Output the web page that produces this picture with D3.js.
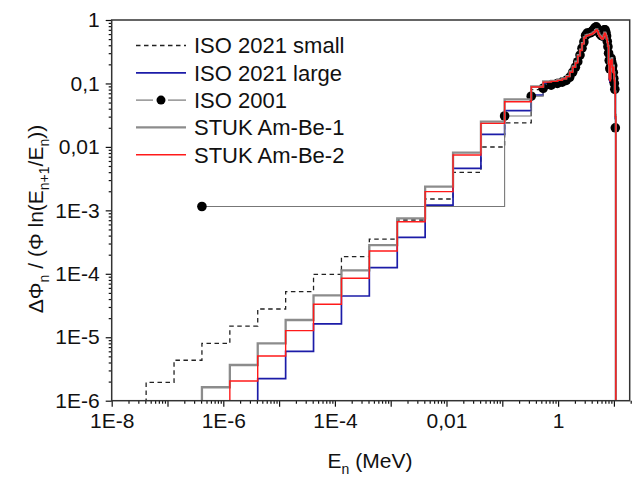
<!DOCTYPE html>
<html lang="en">
<head>
<meta charset="UTF-8">
<title>Am-Be spectra</title>
<script src="https://d3js.org/d3.v7.min.js"></script>
<style>
  body { margin: 0; background: #fff; }
  svg { display: block; font-family: "Liberation Sans", Arial, sans-serif; }
  .tick text { font-size: 21px; fill: #111; }
  .legend text { font-size: 22px; fill: #111; }
</style>
</head>
<body>
<div id="chart"></div>
<script>
// bin edges in MeV: half-decade lethargy bins, then ~0.21 MeV bins above 0.54 MeV
const coarseEdges = [1.31e-8, 4.14e-8, 1.31e-7, 4.14e-7, 1.31e-6, 4.14e-6, 1.31e-5, 4.14e-5,
  1.31e-4, 4.14e-4, 1.31e-3, 4.14e-3, 1.31e-2, 4.14e-2, 0.11, 0.33];
const fineEdges = [0.54, 0.75, 0.97, 1.18, 1.40, 1.61, 1.82, 2.04, 2.25, 2.47, 2.68, 2.90, 3.11, 3.32,
  3.54, 3.75, 3.97, 4.18, 4.39, 4.61, 4.82, 5.04, 5.25, 5.47, 5.68, 5.89, 6.11, 6.32, 6.54, 6.75,
  6.96, 7.18, 7.39, 7.61, 7.82, 8.03, 8.25, 8.46, 8.68, 8.89, 9.11, 9.32, 9.53, 9.75, 9.96, 10.18,
  10.39, 10.60, 10.82, 11.03];

// values per bin (null = no data)
const iso2021Small = [null, 1.95e-6, 4.34e-6, 8.03e-6, 1.50e-5, 2.79e-5, 5.22e-5, 9.8e-5, 1.86e-4,
  3.53e-4, 7.05e-4, 1.51e-3, 3.98e-3, 9.96e-3, 2.40e-2, 0.080,
  0.098, 0.104, 0.11, 0.115, 0.125, 0.147, 0.176, 0.208, 0.262, 0.325, 0.41, 0.51, 0.55, 0.56, 0.57,
  0.58, 0.59, 0.61, 0.63, 0.67, 0.69, 0.65, 0.59, 0.55, 0.53, 0.51, 0.49, 0.51, 0.56, 0.61, 0.59,
  0.54, 0.49, 0.43, 0.37, 0.19, 0.115, 0.105, 0.22, 0.19, 0.23, 0.17, 0.145, 0.17, 0.135, 0.105,
  0.068, 0.028, null];
const iso2021Large = [null, null, null, null, null, 2.22e-6, 6.0e-6, 1.62e-5, 4.47e-5, 1.25e-4,
  3.76e-4, 1.21e-3, 4.6e-3, 1.58e-2, 3.72e-2, 6.58e-2,
  0.1, 0.105, 0.11, 0.116, 0.126, 0.148, 0.178, 0.21, 0.265, 0.33, 0.41, 0.51, 0.55, 0.56, 0.57,
  0.58, 0.59, 0.61, 0.63, 0.67, 0.69, 0.65, 0.59, 0.55, 0.53, 0.51, 0.49, 0.51, 0.56, 0.61, 0.59,
  0.54, 0.49, 0.43, 0.37, 0.19, 0.115, 0.105, 0.22, 0.19, 0.23, 0.17, 0.145, 0.17, 0.135, 0.105,
  0.068, 0.028, null];
const stukAmBe1 = [null, null, null, 1.63e-6, 3.65e-6, 8.0e-6, 1.87e-5, 4.58e-5, 1.13e-4, 2.84e-4,
  7.5e-4, 2.36e-3, 8.1e-3, 2.5e-2, 5.6e-2, 8.95e-2,
  0.108, 0.11, 0.115, 0.12, 0.13, 0.155, 0.185, 0.22, 0.28, 0.34, 0.43, 0.53, 0.57, 0.58, 0.59,
  0.60, 0.61, 0.63, 0.65, 0.69, 0.71, 0.67, 0.61, 0.57, 0.55, 0.53, 0.51, 0.53, 0.58, 0.63, 0.61,
  0.56, 0.51, 0.45, 0.39, 0.21, 0.13, 0.12, 0.24, 0.21, 0.25, 0.19, 0.16, 0.19, 0.15, 0.12,
  0.075, 0.032, null];
const stukAmBe2 = [null, null, null, null, 2.04e-6, 5.06e-6, 1.27e-5, 3.31e-5, 8.5e-5, 2.29e-4,
  6.6e-4, 1.97e-3, 7.45e-3, 2.35e-2, 5.16e-2, 8.8e-2,
  0.105, 0.108, 0.112, 0.118, 0.128, 0.15, 0.18, 0.21, 0.27, 0.33, 0.42, 0.52, 0.56, 0.57, 0.58,
  0.59, 0.60, 0.62, 0.64, 0.68, 0.70, 0.66, 0.60, 0.56, 0.54, 0.52, 0.50, 0.52, 0.57, 0.62, 0.60,
  0.55, 0.50, 0.44, 0.38, 0.20, 0.12, 0.11, 0.23, 0.20, 0.24, 0.18, 0.15, 0.18, 0.14, 0.11,
  0.07, 0.03, null];

// ISO 8529 (2001): lower bin edges and values
const iso2001Energy = [4.14e-7, 0.11, 0.33, 0.54, 0.75, 0.97, 1.18, 1.40, 1.61, 1.82, 2.04, 2.25,
  2.47, 2.68, 2.90, 3.11, 3.32, 3.54, 3.75, 3.97, 4.18, 4.39, 4.61, 4.82, 5.04, 5.25, 5.47, 5.68,
  5.89, 6.11, 6.32, 6.54, 6.75, 6.96, 7.18, 7.39, 7.61, 7.82, 8.03, 8.25, 8.46, 8.68, 8.89, 9.11,
  9.32, 9.53, 9.75, 9.96, 10.18, 10.39, 10.60];
const iso2001Values = [1.15e-3, 0.0307, 0.063, 0.084, 0.094, 0.10, 0.105, 0.112, 0.125, 0.15,
  0.18, 0.22, 0.28, 0.36, 0.45, 0.57, 0.62, 0.62, 0.63, 0.65, 0.68, 0.72, 0.76, 0.78, 0.74, 0.68,
  0.63, 0.60, 0.58, 0.56, 0.58, 0.64, 0.70, 0.70, 0.64, 0.56, 0.46, 0.38, 0.30, 0.23, 0.17, 0.18,
  0.25, 0.22, 0.17, 0.19, 0.15, 0.12, 0.10, 0.081, 0.02];

const xTickLabels = {"-8": "1E-8", "-6": "1E-6", "-4": "1E-4", "-2": "0,01", "0": "1"};
const yTickLabels = {"-6": "1E-6", "-5": "1E-5", "-4": "1E-4", "-3": "1E-3", "-2": "0,01", "-1": "0,1", "0": "1"};

const W = 632, H = 479;
const L = 111.7, R = 630.7, T = 20, B = 400.7;

const svg = d3.select("#chart").append("svg").attr("width", W).attr("height", H);

const x = d3.scaleLog().domain([1e-8, 20]).range([L, R]);
const y = d3.scaleLog().domain([1e-6, 1]).range([B, T]);

svg.append("clipPath").attr("id", "clip")
  .append("rect").attr("x", L).attr("y", T).attr("width", R - L).attr("height", B - T);

// ticks
const xMajor = d3.range(-8, 2).map(p => Math.pow(10, p));
const xMinor = [];
d3.range(-8, 2).forEach(p => d3.range(2, 10).forEach(m => {
  const v = m * Math.pow(10, p);
  if (v <= 20) xMinor.push(v);
}));
const yMajor = d3.range(-6, 1).map(p => Math.pow(10, p));
const yMinor = [];
d3.range(-6, 0).forEach(p => d3.range(2, 10).forEach(m => yMinor.push(m * Math.pow(10, p))));

function expKey(v) { return String(Math.round(Math.log10(v))); }

svg.append("g").attr("transform", `translate(0,${B})`)
  .call(d3.axisBottom(x).tickValues(xMinor).tickSize(3).tickFormat(""))
  .call(g => g.select(".domain").remove());
svg.append("g").attr("transform", `translate(0,${B})`)
  .call(d3.axisBottom(x).tickValues(xMajor).tickSize(6).tickPadding(6)
    .tickFormat(v => xTickLabels[expKey(v)] || ""))
  .call(g => g.select(".domain").remove());

svg.append("g").attr("transform", `translate(${L},0)`)
  .call(d3.axisLeft(y).tickValues(yMinor).tickSize(3).tickFormat(""))
  .call(g => g.select(".domain").remove());
svg.append("g").attr("transform", `translate(${L},0)`)
  .call(d3.axisLeft(y).tickValues(yMajor).tickSize(6).tickPadding(6)
    .tickFormat(v => yTickLabels[expKey(v)] || ""))
  .call(g => g.select(".domain").remove());

svg.selectAll(".tick line").attr("stroke", "#111").attr("stroke-width", 1.2);
svg.selectAll(".tick text").attr("font-size", 21).attr("font-family", null);

// step series
const edges = coarseEdges.concat(fineEdges);
function stepPoints(edgeList, vals) {
  const pts = vals.map((v, i) => [edgeList[i], v == null ? 1e-9 : v]);
  pts.push([edgeList[vals.length], 1e-9]);
  return pts;
}
const stepLine = d3.line().x(d => x(d[0])).y(d => y(d[1])).curve(d3.curveStepAfter);

const plot = svg.append("g").attr("clip-path", "url(#clip)");

const series = [
  {name: "ISO 2021 small", vals: iso2021Small, color: "#222", width: 1.3, dash: "4.5,3.5"},
  {name: "ISO 2021 large", vals: iso2021Large, color: "#1c1ca8", width: 1.7},
  {name: "ISO 2001"},
  {name: "STUK Am-Be-1", vals: stukAmBe1, color: "#8c8c8c", width: 2.3},
  {name: "STUK Am-Be-2", vals: stukAmBe2, color: "#ff1a1a", width: 1.4}
];

const isoPts = iso2001Energy.map((e, i) => [e, iso2001Values[i]]);
isoPts.push([11.03, iso2001Values[iso2001Values.length - 1]]);

series.forEach(s => {
  if (s.name === "ISO 2001") {
    plot.append("path").attr("d", stepLine(isoPts))
      .attr("fill", "none").attr("stroke", "#777").attr("stroke-width", 1.1);
    plot.selectAll(".dot").data(iso2001Energy.map((e, i) => [e, iso2001Values[i]]))
      .enter().append("circle").attr("class", "dot")
      .attr("cx", d => x(d[0])).attr("cy", d => y(d[1])).attr("r", 4.8).attr("fill", "#000");
    return;
  }
  plot.append("path").attr("d", stepLine(stepPoints(edges, s.vals)))
    .attr("fill", "none").attr("stroke", s.color).attr("stroke-width", s.width)
    .attr("stroke-dasharray", s.dash || null);
});

// frame
svg.append("rect").attr("x", L).attr("y", T).attr("width", R - L - 1).attr("height", B - T)
  .attr("fill", "none").attr("stroke", "#333").attr("stroke-width", 1.5);

// legend
const lg = svg.append("g").attr("class", "legend");
series.forEach((s, i) => {
  const yy = 45.5 + i * 27.3;
  if (s.name === "ISO 2001") {
    lg.append("line").attr("x1", 136).attr("x2", 153).attr("y1", yy).attr("y2", yy)
      .attr("stroke", "#777").attr("stroke-width", 1.2);
    lg.append("line").attr("x1", 168).attr("x2", 186).attr("y1", yy).attr("y2", yy)
      .attr("stroke", "#777").attr("stroke-width", 1.2);
    lg.append("circle").attr("cx", 161).attr("cy", yy).attr("r", 4.5).attr("fill", "#000");
  } else {
    lg.append("line").attr("x1", 136).attr("x2", 186).attr("y1", yy).attr("y2", yy)
      .attr("stroke", s.color).attr("stroke-width", s.width)
      .attr("stroke-dasharray", s.dash || null);
  }
  lg.append("text").attr("x", 194).attr("y", yy).attr("dy", "0.36em").text(s.name);
});

// axis titles
const xt = svg.append("text").attr("x", 370).attr("y", 468).attr("text-anchor", "middle")
  .attr("font-size", 21).attr("fill", "#111");
xt.append("tspan").text("E");
xt.append("tspan").attr("font-size", 14).attr("dy", 6).text("n");
xt.append("tspan").attr("dy", -6).text(" (MeV)");

const yt = svg.append("text").attr("transform", "translate(43,219) rotate(-90)")
  .attr("text-anchor", "middle").attr("font-size", 21).attr("fill", "#111");
yt.append("tspan").text("ΔΦ");
yt.append("tspan").attr("font-size", 14).attr("dy", 6).text("n");
yt.append("tspan").attr("dy", -6).text(" / (Φ ln(E");
yt.append("tspan").attr("font-size", 14).attr("dy", 6).text("n+1");
yt.append("tspan").attr("dy", -6).text("/E");
yt.append("tspan").attr("font-size", 14).attr("dy", 6).text("n");
yt.append("tspan").attr("dy", -6).text("))");
</script>
</body>
</html>
